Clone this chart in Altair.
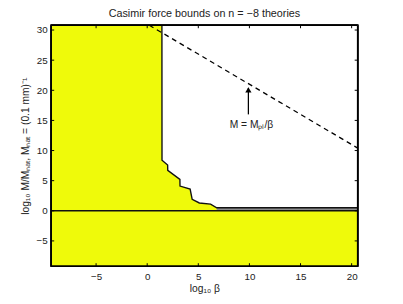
import altair as alt
import pandas as pd

# ---- data ----
X_MIN, X_MAX = -9.4, 20.6
Y_MIN, Y_MAX = -9.2, 30.8

x_ticks = [-5, 0, 5, 10, 15, 20]
y_ticks = [-5, 0, 5, 10, 15, 20, 25, 30]

# boundary of the excluded (yellow) region
bound_x = [1.44, 1.45, 2.0, 2.01, 3.2, 3.21, 4.2, 4.4, 5.1, 6.2, 6.8, 20.6]
bound_y = [30.8, 8.4, 7.6, 6.7, 5.2, 4.1, 3.6, 1.9, 1.3, 1.1, 0.5, 0.5]

# grey band between y = 0 and the boundary for large beta
band_x = [6.8, 20.6]
band_lo = [0.0, 0.0]
band_hi = [0.5, 0.5]

# M = M_pl / beta  (dashed)
line_x = [0.2, 20.6]
line_y = [30.8, 10.4]

# arrow + label
arrow_x = [9.9]
arrow_y0 = [16.0]
arrow_y1 = [20.4]
label_text = ["M = Mₚₗ/β"]
label_x = [10.2]
label_y = [14.2]

title = "Casimir force bounds on n = −8 theories"
x_title = "log₁₀ β"
y_title = "log₁₀ M/Mₙₐₜ, Mₙₐₜ = (0.1 mm)⁻¹"

YELLOW = "#effa0a"
W, H = 313, 246

xs = alt.Scale(domain=[X_MIN, X_MAX], nice=False, zero=False)
ys = alt.Scale(domain=[Y_MIN, Y_MAX], nice=False, zero=False)

x_axis = alt.Axis(values=x_ticks, title=x_title, tickSize=0, labelPadding=6,
                  domain=False, grid=False, labelFontSize=10, titleFontSize=10.5,
                  titlePadding=2, labelColor="#222", titleColor="#222",
                  titleFontWeight="normal", labelOverlap=False, labelFlush=False)
y_axis = alt.Axis(values=y_ticks, title=y_title, tickSize=0, labelPadding=4,
                  domain=False, grid=False, labelFontSize=10, titleFontSize=10.5,
                  titlePadding=6, labelColor="#222", titleColor="#222",
                  titleFontWeight="normal", labelOverlap=False, labelFlush=False)


def X(f):
    return alt.X(f, scale=xs, axis=x_axis)


def Y(f):
    return alt.Y(f, scale=ys, axis=y_axis)


bound_df = pd.DataFrame({"x": bound_x, "y": bound_y, "ytop": [Y_MAX] * len(bound_x),
                         "i": list(range(len(bound_x)))})

# yellow-filled plot background
bg_df = pd.DataFrame({"x": [X_MIN], "x2": [X_MAX], "y": [Y_MIN], "y2": [Y_MAX]})
bg = alt.Chart(bg_df).mark_rect(color=YELLOW, opacity=1).encode(
    x=X("x:Q"), x2="x2:Q", y=Y("y:Q"), y2="y2:Q")

# box frame: four segments along the scale limits
frame_df = pd.DataFrame({
    "x": [X_MIN, X_MIN, X_MIN, X_MAX],
    "x2": [X_MAX, X_MAX, X_MIN, X_MAX],
    "y": [Y_MIN, Y_MAX, Y_MIN, Y_MIN],
    "y2": [Y_MIN, Y_MAX, Y_MAX, Y_MAX],
})
frame = alt.Chart(frame_df).mark_rule(color="black", strokeWidth=1.8).encode(
    x=X("x:Q"), x2="x2:Q", y=Y("y:Q"), y2="y2:Q")

# inward tick marks on all four sides (segments derived from the tick lists)
TX = 0.3   # tick length in x units
TY = 0.5   # tick length in y units
tk_rows = []
for v in x_ticks:
    tk_rows.append({"x": v, "x2": v, "y": Y_MIN, "y2": Y_MIN + TY})
    tk_rows.append({"x": v, "x2": v, "y": Y_MAX, "y2": Y_MAX - TY})
for v in y_ticks:
    tk_rows.append({"x": X_MIN, "x2": X_MIN + TX, "y": v, "y2": v})
    tk_rows.append({"x": X_MAX, "x2": X_MAX - TX, "y": v, "y2": v})
tick_df = pd.DataFrame(tk_rows)
ticks = alt.Chart(tick_df).mark_rule(color="black", strokeWidth=1).encode(
    x=X("x:Q"), x2="x2:Q", y=Y("y:Q"), y2="y2:Q")

white = alt.Chart(bound_df).mark_area(fill="white", opacity=1, interpolate="linear").encode(
    x=X("x:Q"), y=Y("y:Q"), y2=alt.Y2("ytop:Q"))

band_df = pd.DataFrame({"x": band_x, "lo": band_lo, "hi": band_hi})
band = alt.Chart(band_df).mark_area(fill="#8c8c8c", opacity=1).encode(
    x=X("x:Q"), y=Y("lo:Q"), y2=alt.Y2("hi:Q"))

boundary = alt.Chart(bound_df).mark_line(color="#111", strokeWidth=1.4).encode(
    x=X("x:Q"), y=Y("y:Q"), order="i:Q")

zero_df = pd.DataFrame({"x": [X_MIN], "x2": [X_MAX], "y": [0.0]})
zero = alt.Chart(zero_df).mark_rule(color="#111", strokeWidth=1.4).encode(
    x=X("x:Q"), x2="x2:Q", y=Y("y:Q"))

dash_df = pd.DataFrame({"x": line_x, "y": line_y})
dashed = alt.Chart(dash_df).mark_line(color="black", strokeWidth=1.3, strokeDash=[5, 4]).encode(
    x=X("x:Q"), y=Y("y:Q"))

arr_df = pd.DataFrame({"x": arrow_x, "y0": arrow_y0, "y1": arrow_y1})
arrow_shaft = alt.Chart(arr_df).mark_rule(color="black", strokeWidth=1.3).encode(
    x=X("x:Q"), y=Y("y0:Q"), y2="y1:Q")
arrow_head = alt.Chart(arr_df).mark_point(shape="triangle-up", filled=True, color="black",
                                          size=40, opacity=1, yOffset=2).encode(
    x=X("x:Q"), y=Y("y1:Q"))

lab_df = pd.DataFrame({"x": label_x, "y": label_y, "t": label_text})
label = alt.Chart(lab_df).mark_text(fontSize=10.5, color="#222", baseline="middle",
                                    align="center").encode(
    x=X("x:Q"), y=Y("y:Q"), text="t:N")

chart = alt.layer(
    bg, white, band, boundary, zero, dashed, arrow_shaft, arrow_head,
    ticks, frame, label
).properties(
    width=W, height=H,
    title=alt.TitleParams(title, fontSize=11, fontWeight="normal", color="#222", offset=4,
                          anchor="middle"),
    autosize=alt.AutoSizeParams(type="none"),
    padding={"left": 44, "top": 14.5, "right": 38, "bottom": 36},
).configure(
    font="Liberation Sans",
    view=alt.ViewConfig(stroke="black", strokeWidth=1.8),
)

chart.save("out.html", embed_options={"renderer": "svg", "actions": False})
